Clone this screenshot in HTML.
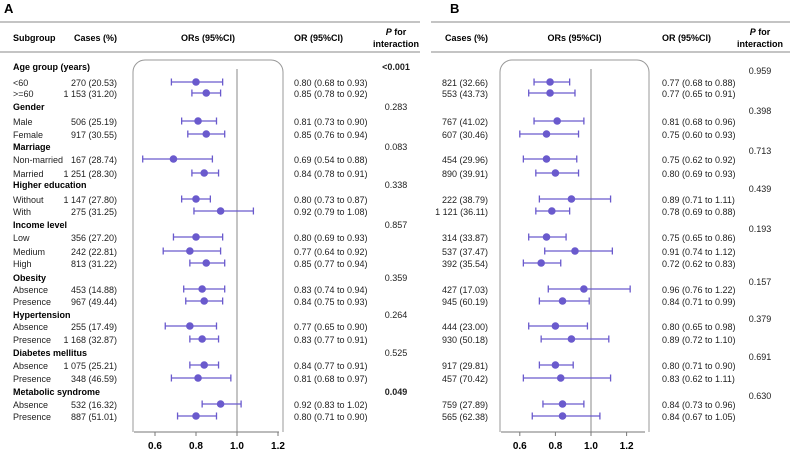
<!DOCTYPE html>
<html><head><meta charset="utf-8"><style>
body{margin:0;background:#fff}
svg{display:block;font-family:"Liberation Sans",Arial,sans-serif}
</style></head><body>
<svg id="chart" width="790" height="450" viewBox="0 0 790 450">
<text x="4" y="13" font-size="13" font-weight="bold">A</text>
<text x="450" y="13" font-size="13" font-weight="bold">B</text>
<g id="gA"></g>
<g id="gB"></g>
</svg>
<script>
const groups=["Age group (years)","Gender","Marriage","Higher education","Income level","Obesity","Hypertension","Diabetes mellitus","Metabolic syndrome"];
const subLabels=[["<60",">=60"],["Male","Female"],["Non-married","Married"],["Without","With"],["Low","Medium","High"],["Absence","Presence"],["Absence","Presence"],["Absence","Presence"],["Absence","Presence"]];
const casesA=["270 (20.53)","1 153 (31.20)","506 (25.19)","917 (30.55)","167 (28.74)","1 251 (28.30)","1 147 (27.80)","275 (31.25)","356 (27.20)","242 (22.81)","813 (31.22)","453 (14.88)","967 (49.44)","255 (17.49)","1 168 (32.87)","1 075 (25.21)","348 (46.59)","532 (16.32)","887 (51.01)"];
const orA=[0.80,0.85,0.81,0.85,0.69,0.84,0.80,0.92,0.80,0.77,0.85,0.83,0.84,0.77,0.83,0.84,0.81,0.92,0.80];
const loA=[0.68,0.78,0.73,0.76,0.54,0.78,0.73,0.79,0.69,0.64,0.77,0.74,0.75,0.65,0.77,0.77,0.68,0.83,0.71];
const hiA=[0.93,0.92,0.90,0.94,0.88,0.91,0.87,1.08,0.93,0.92,0.94,0.94,0.93,0.90,0.91,0.91,0.97,1.02,0.90];
const pA=["<0.001","0.283","0.083","0.338","0.857","0.359","0.264","0.525","0.049"];
const casesB=["821 (32.66)","553 (43.73)","767 (41.02)","607 (30.46)","454 (29.96)","890 (39.91)","222 (38.79)","1 121 (36.11)","314 (33.87)","537 (37.47)","392 (35.54)","427 (17.03)","945 (60.19)","444 (23.00)","930 (50.18)","917 (29.81)","457 (70.42)","759 (27.89)","565 (62.38)"];
const orB=[0.77,0.77,0.81,0.75,0.75,0.80,0.89,0.78,0.75,0.91,0.72,0.96,0.84,0.80,0.89,0.80,0.83,0.84,0.84];
const loB=[0.68,0.65,0.68,0.60,0.62,0.69,0.71,0.69,0.65,0.74,0.62,0.76,0.71,0.65,0.72,0.71,0.62,0.73,0.67];
const hiB=[0.88,0.91,0.96,0.93,0.92,0.93,1.11,0.88,0.86,1.12,0.83,1.22,0.99,0.98,1.10,0.90,1.11,0.96,1.05];
const pB=["0.959","0.398","0.713","0.439","0.193","0.157","0.379","0.691","0.630"];
const ticks=[0.6,0.8,1.0,1.2];

const NS="http://www.w3.org/2000/svg";
const headerY=[66,106,146,184,224,277,314,352,391];
const rowY=[82,93,121,134,159,173,199,211,237,251,263,289,301,326,339,365,378,404,416];
function el(p,tag,attrs,txt){const e=document.createElementNS(NS,tag);for(const k in attrs)e.setAttribute(k,attrs[k]);if(txt!==undefined)e.textContent=txt;p.appendChild(e);return e;}
const fmt=v=>v.toFixed(2);
const col="#6a5acd";
const FS="9";
function panel(g,cfg){
  const x=v=>cfg.x1+(v-1)*cfg.k;
  let r=el(g,"line",{x1:cfg.rule0,x2:cfg.rule1,y1:22,y2:22,stroke:"#888","stroke-width":1});
  
  r=el(g,"line",{x1:cfg.rule0,x2:cfg.rule1,y1:52,y2:52,stroke:"#888","stroke-width":1});
  
  const hs={"font-size":FS,"font-weight":"bold"};
  if(cfg.sub){let t=el(g,"text",Object.assign({x:13,y:41},hs),"Subgroup");}
  let t=el(g,"text",Object.assign({x:cfg.casesX,y:41,"text-anchor":"end"},hs),"Cases (%)");
  
  t=el(g,"text",Object.assign({x:(cfg.box0+cfg.box1)/2,y:41,"text-anchor":"middle"},hs),"ORs (95%CI)");
  
  t=el(g,"text",Object.assign({x:cfg.orX,y:41},hs),"OR (95%CI)");
  
  t=el(g,"text",Object.assign({x:cfg.pX,y:35,"text-anchor":"middle"},hs));
  t.innerHTML='<tspan font-style="italic">P</tspan> for';
  
  t=el(g,"text",Object.assign({x:cfg.pX,y:47,"text-anchor":"middle"},hs),"interaction");
  
  let b=el(g,"rect",{x:cfg.box0,y:60,width:cfg.box1-cfg.box0,height:385,rx:12,fill:"none",stroke:"#999","stroke-width":1});
  
  el(g,"rect",{x:cfg.box0-2,y:432,width:cfg.box1-cfg.box0+4,height:18,fill:"#fff"});
  let ref=el(g,"line",{x1:x(1),x2:x(1),y1:69,y2:432,stroke:"#888","stroke-width":1});
  
  let ax=el(g,"line",{x1:cfg.box0+1,x2:cfg.box1-4,y1:432,y2:432,stroke:"#777","stroke-width":1});
  
  ticks.forEach(v=>{
    let tk=el(g,"line",{x1:x(v),x2:x(v),y1:432,y2:436,stroke:"#777"});
    
    let tl=el(g,"text",{x:x(v),y:449,"text-anchor":"middle","font-size":"10","font-weight":"bold"},v.toFixed(1));
    
  });
  let i=0;
  groups.forEach((gname,gi)=>{
    if(cfg.sub){let h=el(g,"text",{x:13,y:headerY[gi]+4,"font-size":FS,"font-weight":"bold"},gname);
      }
    const pv=cfg.p[gi];const bold=cfg.sub&&(pv==="<0.001"||pv==="0.049");
    let p=el(g,"text",{x:cfg.pX,y:headerY[gi]+4+cfg.pOff,"text-anchor":"middle","font-size":FS,"font-weight":bold?"bold":"normal",fill:"#222"},pv);
    
    subLabels[gi].forEach(s=>{
      const y=rowY[i];
      if(cfg.sub){let l=el(g,"text",{x:13,y:y+4,"font-size":FS,fill:"#222"},s);
        }
      let c=el(g,"text",{x:cfg.casesX,y:y+4,"text-anchor":"end","font-size":FS,fill:"#222"},cfg.cases[i]);
      
      let o=el(g,"text",{x:cfg.orX,y:y+4,"font-size":FS,fill:"#222"},fmt(cfg.or[i])+" ("+fmt(cfg.lo[i])+" to "+fmt(cfg.hi[i])+")");
      
      let ci=el(g,"path",{d:`M${x(cfg.lo[i])},${y}H${x(cfg.hi[i])}M${x(cfg.lo[i])},${y-3.5}V${y+3.5}M${x(cfg.hi[i])},${y-3.5}V${y+3.5}`,stroke:col,"stroke-width":1.3,fill:"none"});
      
      let d=el(g,"circle",{cx:x(cfg.or[i]),cy:y,r:3.8,fill:col});
      
      i++;
    });
  });
}
panel(document.getElementById("gA"),{sub:true,x1:237,k:205,rule0:0,rule1:420,box0:133,box1:283,casesX:117,orX:294,pX:396,pOff:0,cases:casesA,or:orA,lo:loA,hi:hiA,p:pA});
panel(document.getElementById("gB"),{sub:false,x1:591,k:178,rule0:431,rule1:790,box0:500,box1:649,casesX:488,orX:662,pX:760,pOff:4,cases:casesB,or:orB,lo:loB,hi:hiB,p:pB});
</script>
</body></html>
